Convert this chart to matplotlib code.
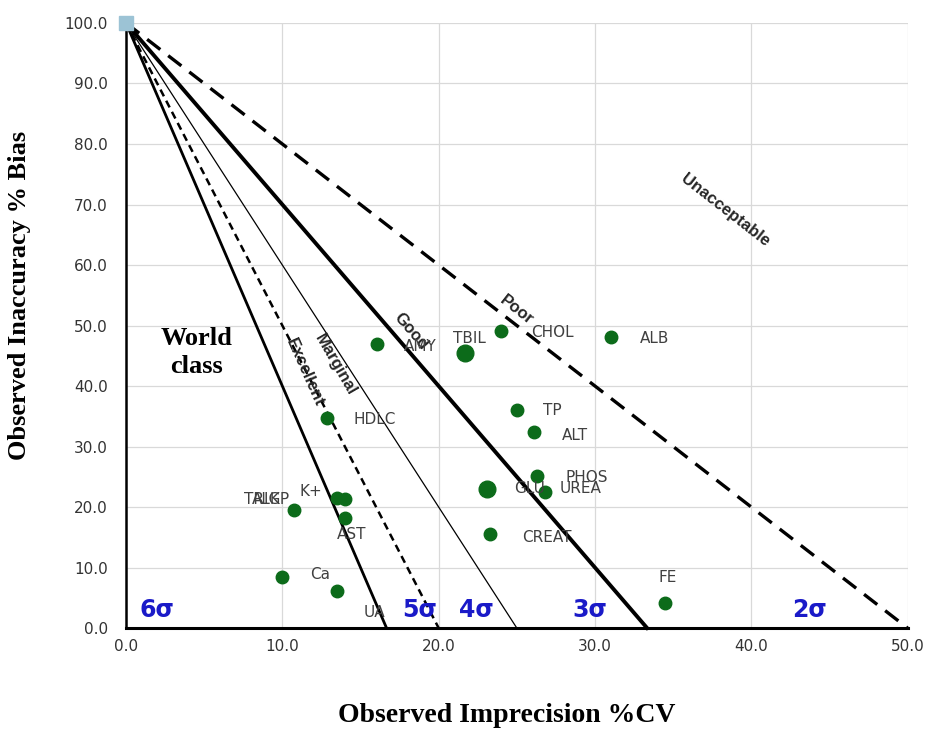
import matplotlib
matplotlib.use("Agg")
import matplotlib.pyplot as plt
import numpy as np

# Data
analytes = ["AMY", "TBIL", "CHOL", "ALB", "TP", "ALT", "HDLC", "PHOS", "GLU", "UREA",
            "CREAT", "K+", "TRIG", "ALKP", "AST", "Ca", "UA", "FE"]
cv = [16.05, 21.7, 24.0, 31.0, 25.0, 26.1, 12.85, 26.3, 23.1, 26.8,
      23.3, 13.5, 10.74, 14.0, 14.0, 10.0, 13.5, 34.5]
bias = [46.9, 45.5, 49.1, 48.1, 36.0, 32.4, 34.7, 25.1, 23.0, 22.5,
        15.5, 21.5, 19.5, 21.3, 18.2, 8.4, 6.1, 4.1]
marker_big = ["TBIL", "GLU"]
label_x = [18.8, 22.0, 27.3, 33.8, 27.3, 28.7, 15.9, 29.5, 25.8, 29.1,
           26.9, 11.8, 8.7, 9.3, 14.45, 12.4, 15.9, 34.65]
label_y = [46.6, 47.9, 48.9, 47.8, 35.9, 31.9, 34.4, 24.8, 23.0, 23.0,
           15.0, 22.6, 21.2, 21.2, 15.4, 8.8, 2.5, 8.3]

sigma_levels = [6, 5, 4, 3, 2]
sigma_text = ["6σ", "5σ", "4σ", "3σ", "2σ"]
sigma_text_x = [2.0, 18.8, 22.4, 29.7, 43.7]
zone_names = ["Excellent", "Marginal", "Good", "Poor", "Unacceptable"]
zone_x = [11.45, 13.4, 18.2, 25.0, 38.3]
zone_y = [42.3, 43.5, 49.1, 52.6, 69.1]
zone_rot = [-66, -60, -49, -38, -38]

fig = plt.figure(figsize=(9.28, 7.30), dpi=100)
ax = fig.add_axes([0.1358, 0.1397, 0.978 - 0.1358, 0.9685 - 0.1397])

ax.set_xlim(0, 50)
ax.set_ylim(0, 100)
ax.set_xticks(np.arange(0, 51, 10))
ax.set_yticks(np.arange(0, 101, 10))
ax.set_xticklabels([f"{v:.1f}" for v in np.arange(0, 51, 10)], fontsize=11, color="#333333")
ax.set_yticklabels([f"{v:.1f}" for v in np.arange(0, 101, 10)], fontsize=11, color="#333333")
ax.tick_params(axis="x", length=0, pad=8)
ax.tick_params(axis="y", length=0, pad=13)
ax.grid(True, color="#d9d9d9", linewidth=0.9)
ax.set_axisbelow(True)
for s in ["top", "right"]:
    ax.spines[s].set_visible(False)
ax.spines["left"].set_linewidth(1.8)
ax.spines["bottom"].set_linewidth(2.2)

# Sigma lines
styles = {6: dict(color="black", lw=2.0, ls="-"),
          5: dict(color="black", lw=1.8, ls=(0, (3, 2))),
          4: dict(color="black", lw=0.9, ls="-"),
          3: dict(color="black", lw=2.8, ls="-"),
          2: dict(color="black", lw=2.4, ls=(0, (5, 3)))}
for s in sigma_levels:
    ax.plot([0, 100.0 / s], [100, 0], **styles[s], zorder=2, clip_on=False)

ax.plot([0], [100], marker="s", color="#9cc3d5", markersize=10, zorder=5, clip_on=False)

# Points
for a, x, y in zip(analytes, cv, bias):
    ms = 12 if a in marker_big else 9
    ax.plot(x, y, "o", color="#0c6b1a", markersize=ms, zorder=4)
for a, x, y in zip(analytes, label_x, label_y):
    ax.text(x, y, a, fontsize=11, color="#404040", ha="center", va="center", zorder=6)

# Sigma labels
for t, x in zip(sigma_text, sigma_text_x):
    ax.text(x, 2.9, t, fontsize=17, fontweight="bold", color="#1a1ac8", ha="center", va="center")

for t, x, y, r in zip(zone_names, zone_x, zone_y, zone_rot):
    ax.text(x, y, t, fontsize=12, fontweight="bold", color="#262626", ha="center", va="center",
            rotation=r, rotation_mode="anchor", family="Liberation Sans")

ax.text(4.5, 45.5, "World\nclass", fontsize=19, fontweight="bold", family="Liberation Serif",
        ha="center", va="center", linespacing=1.25)

ax.set_xlabel("Observed Imprecision %CV", fontsize=20, fontweight="bold",
              family="Liberation Serif")
ax.xaxis.set_label_coords(0.487, -0.124)
ax.set_ylabel("Observed Inaccuracy % Bias", fontsize=19, fontweight="bold",
              family="Liberation Serif")
ax.yaxis.set_label_coords(-0.122, 0.55)

fig.savefig("out.png", dpi=100)
